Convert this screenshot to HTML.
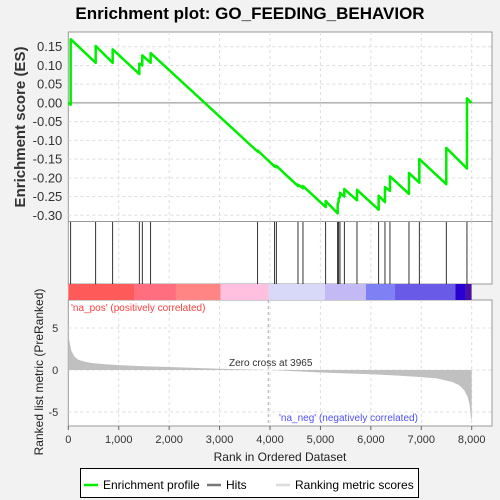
<!DOCTYPE html>
<html><head><meta charset="utf-8">
<style>
body{margin:0;background:#f2f2f2;font-family:"Liberation Sans",sans-serif;}
svg{display:block}
</style></head>
<body>
<svg id="chart" width="500" height="500" xmlns="http://www.w3.org/2000/svg" font-family="Liberation Sans, sans-serif">
<rect x="0" y="0" width="500" height="500" fill="#f2f2f2"/>
<text x="250" y="19" text-anchor="middle" font-size="17" font-weight="bold" fill="#000">Enrichment plot: GO_FEEDING_BEHAVIOR</text>
<g id="g"></g>
</svg>
<script>
const hitRanks=[47,543,880,1408,1467,1633,3755,4092,4125,4555,4654,5104,5342,5362,5388,5474,5725,6155,6280,6379,6756,6961,7496,7906];
const esBefore=[-0.005,0.107,0.107,0.077,0.100,0.107,-0.130,-0.170,-0.172,-0.222,-0.228,-0.278,-0.295,-0.262,-0.252,-0.250,-0.260,-0.285,-0.265,-0.235,-0.243,-0.213,-0.217,-0.175];
const esAfter=[0.170,0.152,0.143,0.105,0.127,0.133,-0.127,-0.167,-0.168,-0.218,-0.222,-0.262,-0.270,-0.255,-0.240,-0.230,-0.232,-0.248,-0.225,-0.196,-0.187,-0.150,-0.120,0.012];
const metricRanks=[0,20,60,120,200,350,500,800,1000,1500,2000,2500,3000,3500,3965,4500,5000,5500,6000,6500,7000,7300,7600,7750,7850,7920,7960,7985,8000];
const metricVals=[5.2,3.5,2.3,1.6,1.2,0.95,0.8,0.65,0.58,0.45,0.35,0.25,0.15,0.07,0,-0.15,-0.3,-0.4,-0.5,-0.65,-0.85,-1.0,-1.4,-1.8,-2.4,-3.2,-4.2,-5.8,-6.0];
const bandStops=[0,1303,2135,3021,3973,5090,5903,6478,7674,7885,7998];
const bandColors=["#ff5a5a","#ff6e7e","#ff8585","#ffc0e0","#d8d8f8","#c2b9f5","#8080f5","#6a5ae8","#2a00d0","#4a10a0"];
const xTicks=[0,1000,2000,3000,4000,5000,6000,7000,8000];
const esTicks=[0.15,0.10,0.05,0.00,-0.05,-0.10,-0.15,-0.20,-0.25,-0.30];
const metricTicks=[5,0,-5];
const zeroCross=3965;

const NS="http://www.w3.org/2000/svg";
const g=document.getElementById('g');
const L=68.3,R=492;
const X=r=>L+r*(471.7-68.3)/8000;
const YE=v=>102.9-v*(18.73/0.05);
const YM=v=>370-v*8.4;
function el(t,a,p){const e=document.createElementNS(NS,t);for(const k in a)e.setAttribute(k,a[k]);(p||g).appendChild(e);return e;}

// panels
let e;
e=el('rect',{x:L,y:32,width:R-L,height:189.5,fill:'#fff',stroke:'#999'});


e=el('rect',{x:L,y:221.5,width:R-L,height:62.5,fill:'#fff',stroke:'#999'});


e=el('rect',{x:L,y:300,width:R-L,height:126,fill:'#fff',stroke:'#999'});



// grids
xTicks.forEach(t=>{if(t===0)return;
 [[32,221.5],[221.5,284],[300,426]].forEach(([a,b])=>{
  e=el('line',{x1:X(t),x2:X(t),y1:a,y2:b,stroke:'#ddd','stroke-dasharray':'3,3'});
  
  
 });
});
esTicks.forEach(t=>{
 e=el('line',{x1:L,x2:R,y1:YE(t),y2:YE(t),stroke:t===0?'#888':'#ddd','stroke-dasharray':t===0?'':'3,3'});
 
 
 e=el('text',{x:L-6,y:YE(t)+4.5,'text-anchor':'end','font-size':'13',fill:'#333'});
 e.textContent=t.toFixed(2);
 
 
});
metricTicks.forEach(t=>{
 e=el('line',{x1:L,x2:R,y1:YM(t),y2:YM(t),stroke:'#ddd','stroke-dasharray':'3,3'});
 
 
 e=el('text',{x:L-10,y:YM(t)+4,'text-anchor':'end','font-size':'11',fill:'#333'});
 e.textContent=t;
 
 
});

// ES curve
let d=`M${X(0)},${YE(0)}`;
hitRanks.forEach((r,i)=>{d+=` L${X(r)},${YE(esBefore[i])} L${X(r)},${YE(esAfter[i])}`;});
d+=` L${X(8000)},${YE(0)}`;
e=el('path',{d:d,fill:'none',stroke:'#00ee00','stroke-width':'2.5','stroke-linejoin':'round'});



// hits
hitRanks.forEach(r=>{
 e=el('line',{x1:X(r),x2:X(r),y1:222,y2:284,stroke:'#000','stroke-width':'0.8'});
 
 
});

// color band
bandColors.forEach((c,i)=>{
 e=el('rect',{x:X(bandStops[i]),y:284,width:X(bandStops[i+1])-X(bandStops[i]),height:16,fill:c});
 
 
});

// metric area
let md=`M${X(0)},${YM(0)}`;
metricRanks.forEach((r,i)=>{md+=` L${X(r)},${YM(metricVals[i])}`;});
md+=` L${X(8000)},${YM(0)} Z`;
e=el('path',{d:md,fill:'#c0c0c0',stroke:'none'});


e=el('line',{x1:X(zeroCross),x2:X(zeroCross),y1:300,y2:426,stroke:'#aaa','stroke-dasharray':'3,3'});


e=el('text',{x:229,y:366,'font-size':'10',fill:'#333'});
e.textContent='Zero cross at '+zeroCross;


e=el('text',{x:71,y:311,'font-size':'10',fill:'#ff4040'});
e.textContent="'na_pos' (positively correlated)";


e=el('text',{x:279,y:421,'font-size':'10',fill:'#5050ff'});
e.textContent="'na_neg' (negatively correlated)";



// x ticks
xTicks.forEach(t=>{
 e=el('line',{x1:X(t),x2:X(t),y1:426,y2:430,stroke:'#666'});
 
 
 e=el('text',{x:X(t),y:443,'text-anchor':'middle','font-size':'11',fill:'#333'});
 e.textContent=t.toLocaleString('en-US');
 
 
});
e=el('text',{x:280,y:461,'text-anchor':'middle','font-size':'12',fill:'#222'});
e.textContent='Rank in Ordered Dataset';


e=el('text',{x:0,y:0,'text-anchor':'middle','font-size':'15','font-weight':'bold',fill:'#333',transform:'translate(25,127) rotate(-90)'});
e.textContent='Enrichment score (ES)';


e=el('text',{x:0,y:0,'text-anchor':'middle','font-size':'12',fill:'#222',transform:'translate(43,372) rotate(-90)'});
e.textContent='Ranked list metric (PreRanked)';



// legend
const lg=el('g',{});


el('rect',{x:80.5,y:468.5,width:338,height:29,fill:'#fff',stroke:'#000'},lg);
el('line',{x1:84,x2:98,y1:485,y2:485,stroke:'#00ee00','stroke-width':'2.5'},lg);
e=el('text',{x:103,y:489,'font-size':'12',fill:'#000'},lg);e.textContent='Enrichment profile';


el('line',{x1:207,x2:221,y1:485,y2:485,stroke:'#777','stroke-width':'2.5'},lg);
e=el('text',{x:226,y:489,'font-size':'12',fill:'#000'},lg);e.textContent='Hits';


el('line',{x1:276,x2:290,y1:485,y2:485,stroke:'#ddd','stroke-width':'2.5'},lg);
e=el('text',{x:295,y:489,'font-size':'12',fill:'#000'},lg);e.textContent='Ranking metric scores';


</script>
</body></html>
